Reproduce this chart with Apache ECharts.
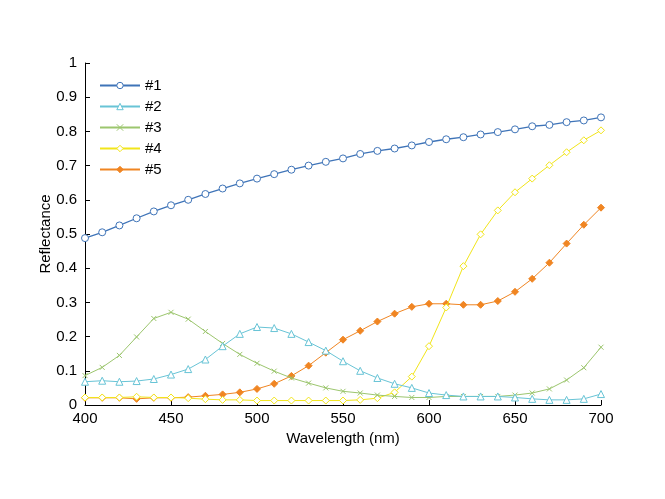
<!DOCTYPE html>
<html>
<head>
<meta charset="utf-8">
<script src="https://cdn.jsdelivr.net/npm/echarts@6/dist/echarts.min.js"></script>
<style>
  html, body { margin: 0; padding: 0; background: #fff; }
  #chart { width: 665px; height: 499px; }
</style>
</head>
<body>
<div id="chart"></div>
<script>
// wavelengths 400..700 step 10
const wavelengths = [400, 410, 420, 430, 440, 450, 460, 470, 480, 490, 500,
  510, 520, 530, 540, 550, 560, 570, 580, 590, 600,
  610, 620, 630, 640, 650, 660, 670, 680, 690, 700]

const s1 = [0.488, 0.505, 0.525, 0.546, 0.566, 0.584, 0.600, 0.617, 0.633, 0.648, 0.662,
  0.675, 0.688, 0.700, 0.711, 0.721, 0.734, 0.743, 0.750, 0.759, 0.769,
  0.777, 0.783, 0.791, 0.798, 0.806, 0.815, 0.819, 0.827, 0.832, 0.841]
const s2 = [0.068, 0.071, 0.068, 0.070, 0.076, 0.089, 0.105, 0.133, 0.172, 0.208, 0.228,
  0.225, 0.208, 0.184, 0.159, 0.128, 0.100, 0.079, 0.062, 0.050, 0.035,
  0.029, 0.025, 0.025, 0.025, 0.022, 0.018, 0.015, 0.015, 0.018, 0.032]
const s3 = [0.086, 0.110, 0.145, 0.199, 0.253, 0.271, 0.251, 0.215, 0.180, 0.148, 0.122,
  0.099, 0.079, 0.064, 0.050, 0.040, 0.035, 0.029, 0.025, 0.022, 0.022,
  0.025, 0.025, 0.025, 0.025, 0.029, 0.035, 0.047, 0.073, 0.109, 0.169]
const s4 = [0.022, 0.022, 0.022, 0.024, 0.022, 0.022, 0.020, 0.017, 0.015, 0.015, 0.013,
  0.013, 0.013, 0.013, 0.013, 0.013, 0.015, 0.020, 0.037, 0.083, 0.172,
  0.285, 0.406, 0.499, 0.569, 0.622, 0.662, 0.701, 0.739, 0.774, 0.803]
const s5 = [0.021, 0.021, 0.021, 0.018, 0.021, 0.021, 0.023, 0.027, 0.031, 0.037, 0.047,
  0.062, 0.085, 0.115, 0.153, 0.191, 0.217, 0.244, 0.267, 0.287, 0.296,
  0.296, 0.293, 0.293, 0.304, 0.331, 0.369, 0.416, 0.472, 0.527, 0.577]

const seriesNames = ['#1', '#2', '#3', '#4', '#5']
const seriesColors = ['#3f74b8', '#68c4d6', '#9cc66e', '#f2e51a', '#f08522']

const font = 'Liberation Sans, Arial, sans-serif'
const crossPath = 'path://M0,0L10,10M10,0L0,10'

function pairs(vals) {
  return wavelengths.map((w, i) => [w, vals[i]])
}

const seriesDefs = [
  { data: s1, symbol: 'circle', size: 7, fill: '#fff', width: 1.3 },
  { data: s2, symbol: 'triangle', size: 7, fill: '#fff', width: 1 },
  { data: s3, symbol: crossPath, size: 5, fill: 'transparent', width: 1 },
  { data: s4, symbol: 'diamond', size: 7, fill: '#fff', width: 1 },
  { data: s5, symbol: 'diamond', size: 7, fill: null, width: 1 }
]

const series = seriesDefs.map((d, i) => ({
  name: seriesNames[i],
  type: 'line',
  data: pairs(d.data),
  symbol: d.symbol,
  symbolSize: d.size,
  showAllSymbol: true,
  animation: false,
  lineStyle: { color: seriesColors[i], width: d.width },
  itemStyle: {
    color: d.fill === null ? seriesColors[i] : d.fill,
    borderColor: seriesColors[i],
    borderWidth: 1
  },
  z: 5 - i
}))

const chart = echarts.init(document.getElementById('chart'))
chart.setOption({
  backgroundColor: '#fff',
  animation: false,
  grid: { left: 85, right: 64, top: 63, bottom: 94 },
  legend: {
    orient: 'vertical',
    left: 94,
    top: 73,
    itemWidth: 40,
    itemHeight: 8,
    itemGap: 6,
    textStyle: { fontFamily: font, fontSize: 15, color: '#000' },
    data: seriesNames.map((n, i) => ({ name: n, itemStyle: series[i].itemStyle }))
  },
  xAxis: {
    type: 'value',
    min: 400,
    max: 700,
    interval: 50,
    name: 'Wavelength (nm)',
    nameLocation: 'middle',
    nameGap: 26,
    nameTextStyle: { fontFamily: font, fontSize: 15, color: '#000' },
    axisLine: { show: true, onZero: false, lineStyle: { color: '#000', width: 1 } },
    axisTick: { show: true, inside: true, length: 5, lineStyle: { color: '#000' } },
    axisLabel: { fontFamily: font, fontSize: 15, color: '#000', margin: 6 },
    splitLine: { show: false }
  },
  yAxis: {
    type: 'value',
    min: 0,
    max: 1,
    interval: 0.1,
    name: 'Reflectance',
    nameLocation: 'middle',
    nameGap: 32,
    nameMoveOverlap: false,
    nameTextStyle: { fontFamily: font, fontSize: 15, color: '#000' },
    axisLine: { show: true, onZero: false, lineStyle: { color: '#000', width: 1 } },
    axisTick: { show: true, inside: true, length: 5, lineStyle: { color: '#000' } },
    axisLabel: { fontFamily: font, fontSize: 15, color: '#000', margin: 8 },
    splitLine: { show: false }
  },
  series: series
})
</script>
</body>
</html>
